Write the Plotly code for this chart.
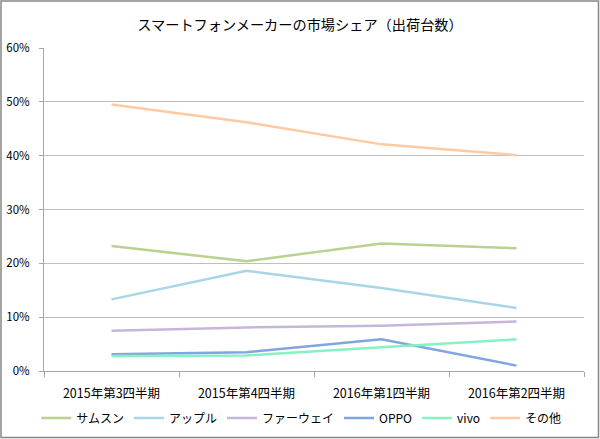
import plotly.graph_objects as go

categories = ["2015年第3四半期", "2015年第4四半期", "2016年第1四半期", "2016年第2四半期"]
samsung = [0.232, 0.204, 0.237, 0.228]
apple = [0.133, 0.186, 0.154, 0.117]
huawei = [0.075, 0.081, 0.084, 0.092]
oppo = [0.031, 0.035, 0.059, 0.010]
vivo = [0.028, 0.029, 0.044, 0.059]
other = [0.495, 0.462, 0.421, 0.401]

series = [
    ("サムスン", samsung, "#B9D28F"),
    ("アップル", apple, "#A8D6E6"),
    ("ファーウェイ", huawei, "#C6B6DA"),
    ("OPPO", oppo, "#7FA6E0"),
    ("vivo", vivo, "#86F2C2"),
    ("その他", other, "#FFCAA2"),
]

font_family = "Noto Sans CJK JP, Noto Sans, sans-serif"

W, H = 600, 439
L, R, T, B = 44, 16, 48, 68
PW, PH = W - L - R, H - T - B

fig = go.Figure()
for name, vals, color in series:
    fig.add_trace(go.Scatter(
        x=categories, y=vals, name=name, mode="lines",
        line=dict(color=color, width=2.5),
    ))

fig.update_layout(
    width=W, height=H,
    margin=dict(l=L, r=R, t=T, b=B, autoexpand=False),
    paper_bgcolor="white", plot_bgcolor="white",
    title=dict(text="スマートフォンメーカーの市場シェア（出荷台数）",
               x=0.5, xanchor="center", y=0.943, yanchor="middle",
               font=dict(family=font_family, size=14.2, color="#000000")),
    font=dict(family=font_family, size=12, color="#000000"),
    showlegend=True,
    legend=dict(orientation="h", x=0.502, xanchor="center", xref="container",
                y=0.048, yanchor="middle", yref="container",
                font=dict(family=font_family, size=12, color="#000000"),
                itemwidth=30, tracegroupgap=0),
    xaxis=dict(type="category", tickson="boundaries", ticks="outside", ticklen=5,
               tickcolor="#A6A6A6", showline=True, linecolor="#A6A6A6", linewidth=1,
               showgrid=False, zeroline=False, range=[-0.5, 3.5],
               ticklabelstandoff=11, tickfont=dict(size=12.5)),
    yaxis=dict(range=[0, 0.6], dtick=0.1, tickformat=".0%", ticks="outside", ticklen=4,
               tickcolor="#A6A6A6", showline=True, linecolor="#A6A6A6", linewidth=1,
               showgrid=True, gridcolor="#BFBFBF", gridwidth=1, zeroline=False,
               ticklabelstandoff=7, tickfont=dict(size=11.5)),
    shapes=[dict(type="rect", xref="paper", yref="paper",
                 x0=(1 - L) / PW, x1=(598.5 - L) / PW,
                 y0=(T + PH - 437.5) / PH, y1=(T + PH - 1) / PH,
                 line=dict(color="#868686", width=1.5), fillcolor="rgba(0,0,0,0)")],
)

fig.write_html("out.html", config={"displayModeBar": False},
               post_script="document.body.style.margin='0';document.body.style.padding='0';")
